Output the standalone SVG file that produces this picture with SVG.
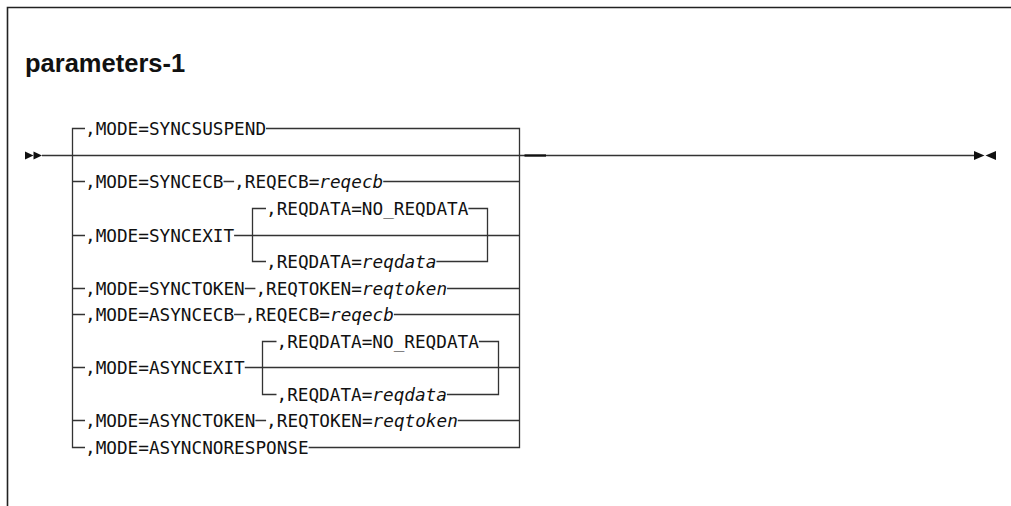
<svg xmlns="http://www.w3.org/2000/svg" width="1011" height="506" viewBox="0 0 1011 506">
<style>
.t{font-family:"DejaVu Sans Mono","Liberation Mono",monospace;font-size:17.7px;fill:#111}
.i{font-style:italic}
.ln{stroke:#333;stroke-width:1.3;fill:none}
.title{font-family:"Liberation Sans",Arial,sans-serif;font-size:25.5px;font-weight:bold;fill:#111}
.arr{fill:#111}
</style>
<rect width="1011" height="506" fill="#fff"/>
<path d="M7.5 506 V7.5 H1011" fill="none" stroke="#222" stroke-width="1.6"/>
<text class="title" x="25" y="72">parameters-1</text>

<g id="connectors">
  <polygon class="arr" points="25,151.5 33.5,155.5 25,159.5"/>
  <polygon class="arr" points="33.5,151.5 42,155.5 33.5,159.5"/>
  <path class="ln" d="M42 155.5 H974"/>
  <path d="M524.5 155.5 H546" stroke="#111" stroke-width="2.3"/>
  <polygon class="arr" points="974,151 984.5,155.5 974,160"/>
  <polygon class="arr" points="996,151 985.5,155.5 996,160"/>
  <path class="ln" d="M85 128.5 H72.5 V447.5 H85"/>
  <path class="ln" d="M266 128.5 H519.5 V447.5 H308.6"/>
  <path class="ln" d="M72.5 181.5 H85 M223.5 181.5 H234.1 M383.2 181.5 H519.5"/>
  <path class="ln" d="M72.5 235.5 H85 M234.1 235.5 H519.5"/>
  <path class="ln" d="M266 208.5 H252.5 V261.5 H266 M468.4 208.5 H487.5 V261.5 H436.4"/>
  <path class="ln" d="M72.5 288.5 H85 M244.8 288.5 H255.4 M447.1 288.5 H519.5"/>
  <path class="ln" d="M72.5 314.5 H85 M234.1 314.5 H244.8 M393.9 314.5 H519.5"/>
  <path class="ln" d="M72.5 367.5 H85 M244.8 367.5 H519.5"/>
  <path class="ln" d="M276.5 341.5 H262.5 V394.5 H276.5 M478.9 341.5 H498.5 V394.5 H446.9"/>
  <path class="ln" d="M72.5 420.5 H85 M255.4 420.5 H266.1 M457.8 420.5 H519.5"/>
</g>

<g id="opt-syncsuspend"><text class="t" x="85" y="134.5">,MODE=SYNCSUSPEND</text></g>
<g id="opt-syncecb"><text class="t" x="85" y="187.5">,MODE=SYNCECB</text><text class="t" x="234.1" y="187.5">,REQECB=<tspan class="i">reqecb</tspan></text></g>
<g id="opt-syncexit"><text class="t" x="85" y="241.5">,MODE=SYNCEXIT</text>
  <g id="opt-syncexit-noreqdata"><text class="t" x="266" y="214.5">,REQDATA=NO_REQDATA</text></g>
  <g id="opt-syncexit-reqdata"><text class="t" x="266" y="267.5">,REQDATA=<tspan class="i">reqdata</tspan></text></g>
</g>
<g id="opt-synctoken"><text class="t" x="85" y="294.5">,MODE=SYNCTOKEN</text><text class="t" x="255.4" y="294.5">,REQTOKEN=<tspan class="i">reqtoken</tspan></text></g>
<g id="opt-asyncecb"><text class="t" x="85" y="320.5">,MODE=ASYNCECB</text><text class="t" x="244.8" y="320.5">,REQECB=<tspan class="i">reqecb</tspan></text></g>
<g id="opt-asyncexit"><text class="t" x="85" y="373.5">,MODE=ASYNCEXIT</text>
  <g id="opt-asyncexit-noreqdata"><text class="t" x="276.5" y="347.5">,REQDATA=NO_REQDATA</text></g>
  <g id="opt-asyncexit-reqdata"><text class="t" x="276.5" y="400.5">,REQDATA=<tspan class="i">reqdata</tspan></text></g>
</g>
<g id="opt-asynctoken"><text class="t" x="85" y="426.5">,MODE=ASYNCTOKEN</text><text class="t" x="266.1" y="426.5">,REQTOKEN=<tspan class="i">reqtoken</tspan></text></g>
<g id="opt-asyncnoresponse"><text class="t" x="85" y="453.5">,MODE=ASYNCNORESPONSE</text></g>
</svg>
